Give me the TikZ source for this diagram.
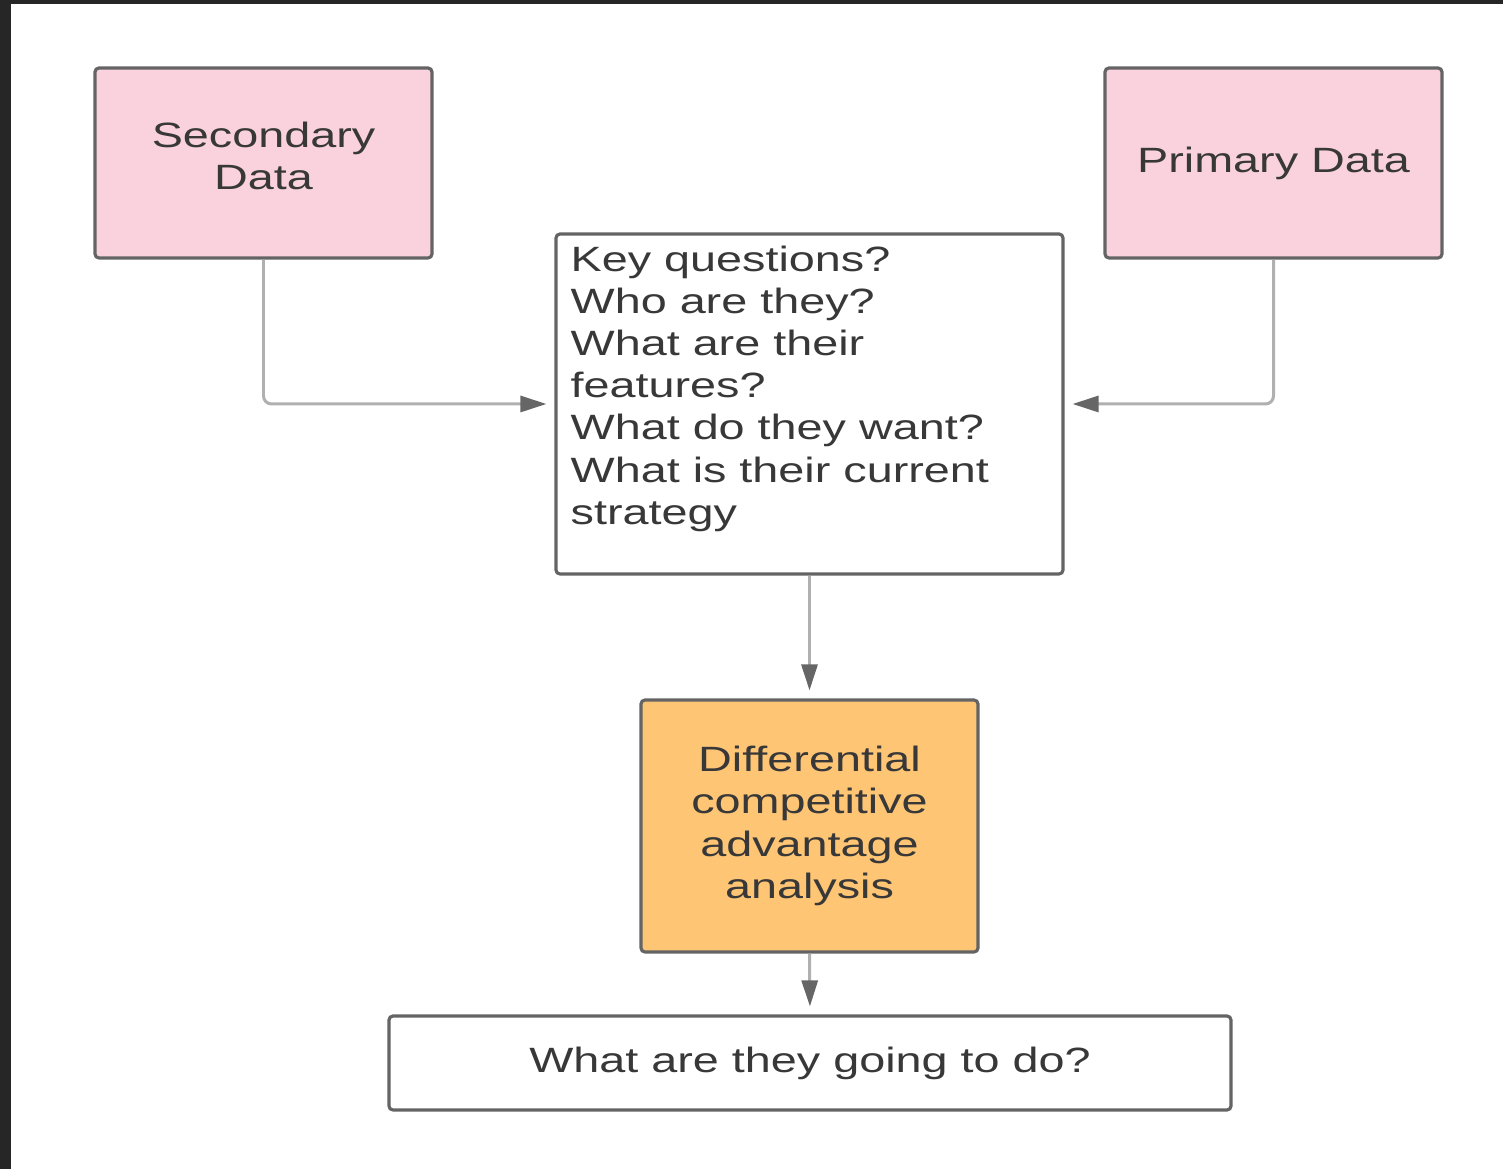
\documentclass[tikz,border=0pt]{standalone}
\usepackage{fontspec}
\setmainfont[FakeStretch=1.33]{Liberation Sans}
\usepackage{tikz}
\usetikzlibrary{arrows.meta, positioning, calc}
\definecolor{boxline}{HTML}{646464}
\definecolor{linkline}{HTML}{B0B0B0}
\definecolor{tipgray}{HTML}{666666}
\definecolor{datapink}{HTML}{F9D2DD}
\definecolor{analysisorange}{HTML}{FEC575}
\definecolor{textgray}{HTML}{383838}
\definecolor{frame}{HTML}{262626}
\tikzset{
    flowbox/.style={rectangle, draw=boxline, line width=0.9pt, rounded corners=0.04cm, inner sep=0pt, align=center, text=textgray, font=\fontsize{10pt}{12pt}\selectfont},
    databox/.style={flowbox, fill=datapink, minimum width=3.37cm, minimum height=1.90cm},
    keybox/.style={flowbox, fill=white, minimum width=5.07cm, minimum height=3.40cm},
    analysisbox/.style={flowbox, fill=analysisorange, minimum width=3.37cm, minimum height=2.52cm},
    outcomebox/.style={flowbox, fill=white, minimum width=8.42cm, minimum height=0.94cm},
    flowarrow/.style={-{Triangle[length=2.6mm,width=1.6mm,color=tipgray]}, line width=0.85pt, draw=linkline, rounded corners=0.08cm, shorten >=0.08cm}
}
\begin{document}
\begin{tikzpicture}
    \useasboundingbox (0,0) rectangle (15.03,11.69);
    \fill[white] (0,0) rectangle (15.03,11.69);
    \fill[frame] (0,0) rectangle (0.11,11.69);
    \fill[frame] (0,11.65) rectangle (15.03,11.69);

    \node[databox] (sec) at (2.635,10.06) {Secondary\\Data\\[-0.28cm]};
    \node[databox] (pri) at (12.735,10.06) {Primary Data};
    \node[keybox] (key) at (8.095,7.65) {};
    \node[anchor=north west, inner sep=0pt, align=left, text=textgray, font=\fontsize{10pt}{12pt}\selectfont] (keytext) at (5.70,9.24)
        {Key questions?\\Who are they?\\What are their\\features?\\What do they want?\\What is their current\\strategy};
    \node[analysisbox] (diff) at (8.095,3.43) {Differential\\competitive\\advantage\\analysis};
    \node[outcomebox] (todo) at (8.10,1.06) {What are they going to do?};

    % Data sources
    \draw[flowarrow] (sec.south) |- (key.west);
    \draw[flowarrow] (pri.south) |- (key.east);

    % Main flow
    \draw[flowarrow] (key.south) -- (diff.north);
    \draw[flowarrow] (diff.south) -- (todo.north);
\end{tikzpicture}
\end{document}
